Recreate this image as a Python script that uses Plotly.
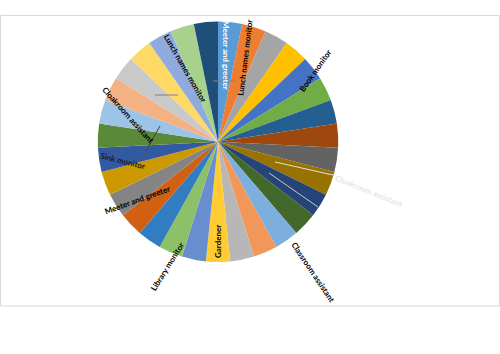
import plotly.graph_objects as go

W, H = 500, 354

# slice data (31 equal roles, Office colour cycle)
slice_names = [f"Role {i}" for i in range(1, 32)]
slice_values = [1, 1, 1, 1, 1, 1, 1, 1, 1, 1, 1, 1, 1, 1, 1, 1,
                1, 1, 1, 1, 1, 1, 1, 1, 1, 1, 1, 1, 1, 1, 1]
slice_colors = [
    "#5B9BD5", "#ED7D31", "#A5A5A5", "#FFC000", "#4472C4", "#70AD47",
    "#255E91", "#9E480E", "#636363", "#997300", "#264478", "#43682B",
    "#7CAFDD", "#F1975A", "#B7B7B7", "#FFCD33", "#698ED0", "#8CC168",
    "#327DC2", "#D26012", "#848484", "#CC9A00", "#335AA1", "#5A8A39",
    "#9DC3E6", "#F4B183", "#C9C9C9", "#FFD966", "#8FAADC", "#A9D18E",
    "#1F4E79",
]

# data labels shown on the chart
label_texts = [
    "Meeter and greeter", "Lunch names monitor", "Book monitor",
    "Cloakroom assistant", "Classroom assistant", "Gardener",
    "Library monitor", "Meeter and greeter", "Sink monitor",
    "Cloakroom assistant", "Lunch names monitor",
]
# label placement (pixel centre x, y, rotation, colour)
label_x = [226, 245, 315, 369, 313, 218, 167, 137, 123, 128, 185]
label_y = [55, 58, 71, 191, 272, 242, 267, 200, 161, 115, 68]
label_rot = [90, -83, -55, 22, 56, -90, -58, -20, 14, 48, 60]
label_col = ["#FFFFFF", "#000000", "#000000", "#E6E6E6", "#000000", "#000000",
             "#000000", "#000000", "#1a1a1a", "#000000", "#000000"]

fig = go.Figure(go.Pie(
    labels=slice_names,
    values=slice_values,
    sort=False,
    direction="clockwise",
    rotation=0,
    marker=dict(colors=slice_colors, line=dict(width=0)),
    textinfo="none",
    hoverinfo="skip",
    showlegend=False,
    domain=dict(x=[97.7 / W, 338.3 / W], y=[1 - 262 / H, 1 - 21.5 / H]),
))

def px(x):
    return x / W

def py(y):
    return 1 - y / H

# chart area border
fig.add_shape(type="rect", xref="paper", yref="paper",
              x0=px(0.5), x1=px(499.5), y0=py(306), y1=py(15.5),
              line=dict(color="#D9D9D9", width=1), layer="below")

# leader lines
leaders = [
    (155, 95, 178, 95, "#808080"),
    (213, 81, 236, 81, "#808080"),
    (146, 151, 160, 126, "#404040"),
    (275, 162, 333, 175, "#E0E0E0"),
    (269, 173, 318, 207, "#C8C8C8"),
]
for x0, y0, x1, y1, c in leaders:
    fig.add_shape(type="line", xref="paper", yref="paper",
                  x0=px(x0), y0=py(y0), x1=px(x1), y1=py(y1),
                  line=dict(color=c, width=1))

for t, x, y, r, c in zip(label_texts, label_x, label_y, label_rot, label_col):
    fig.add_annotation(text="<b>" + t + "</b>", x=px(x), y=py(y), xref="paper", yref="paper",
                       showarrow=False, textangle=r, xanchor="center", yanchor="middle",
                       font=dict(family="Lato", size=8, color=c))

fig.update_layout(width=W, height=H, margin=dict(l=0, r=0, t=0, b=0),
                  paper_bgcolor="white", plot_bgcolor="white")

fig.write_html("out.html")
